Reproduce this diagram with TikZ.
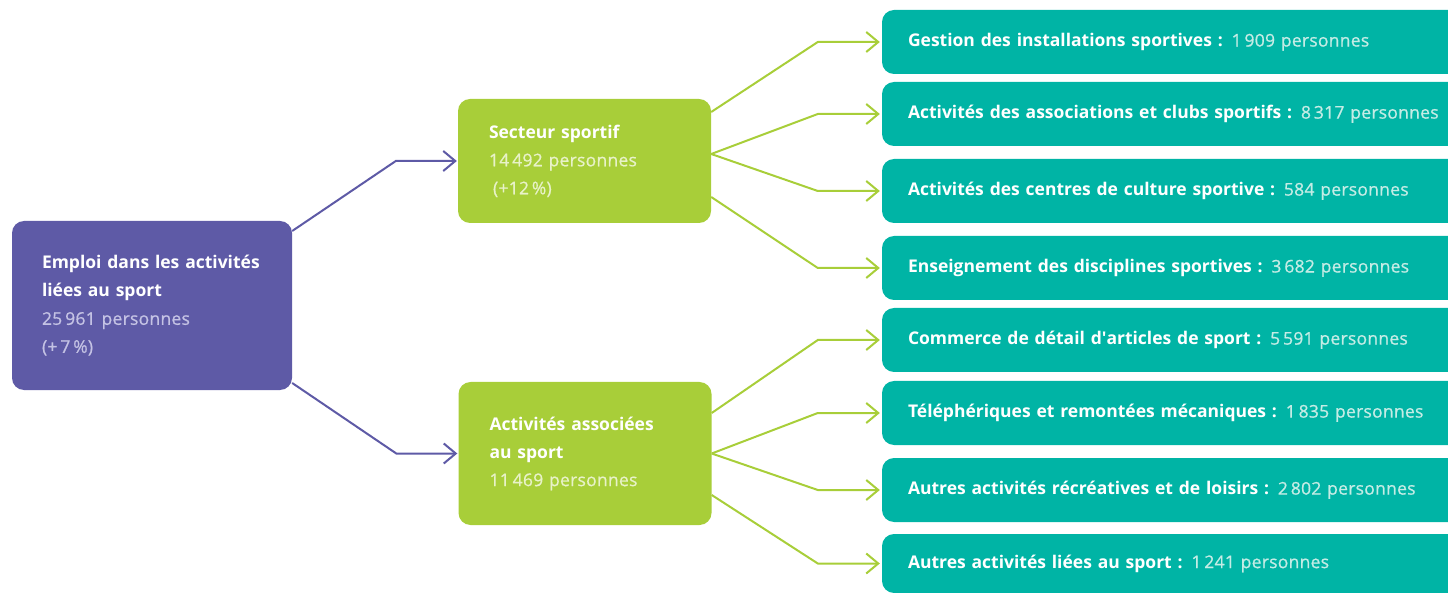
\documentclass[tikz,border=0pt]{standalone}
\usepackage{fontspec}
\setmainfont{Open Sans}[UprightFeatures={FakeBold=0.8, LetterSpace=1.5}]
\usetikzlibrary{arrows.meta}

\definecolor{empPurple}{RGB}{94,90,166}
\definecolor{empLavender}{RGB}{196,194,228}
\definecolor{sportGreen}{RGB}{168,206,57}
\definecolor{sportPale}{RGB}{232,242,200}
\definecolor{sportTeal}{RGB}{0,180,165}
\definecolor{tealPale}{RGB}{196,236,229}

\begin{document}
\begin{tikzpicture}[
    x=1pt, y=-1pt,
    font=\fontsize{17.5}{28}\selectfont,
    box/.style={rectangle, rounded corners=12pt, text=white, align=left, inner ysep=0pt},
    root/.style={box, fill=empPurple, minimum width=280pt, minimum height=169pt, text width=220pt, inner xsep=30pt},
    sector/.style={box, fill=sportGreen, minimum width=253pt, text width=191pt, inner xsep=31pt},
    branch/.style={box, fill=sportTeal, minimum width=600pt, minimum height=64pt, text width=548pt, inner xsep=26pt},
    purplelink/.style={-{Straight Barb[length=12pt,width=20pt]}, line width=2pt, empPurple, shorten >=1pt},
    greenlink/.style={-{Straight Barb[length=12pt,width=20pt]}, line width=2pt, sportGreen, shorten >=2pt}
]
\useasboundingbox (0,0) rectangle (1448,593);
\clip (0,0) rectangle (1448,593);

% Main box
\node[root] (emploi) at (152,305.5) {\textbf{Emploi dans les activités}\\\textbf{liées au sport}\\{\color{empLavender}25\,961 personnes\\(+\,7\,\%)}};

% Sectors
\node[sector, minimum height=124pt] (secteur) at (584.5,161) {\textbf{Secteur sportif}\\{\color{sportPale}14\,492 personnes\\\hspace*{4pt}(+12\,\%)}};
\node[sector, minimum height=143pt] (associe) at (585,453.5) {\textbf{Activités associées}\\\textbf{au sport}\\{\color{sportPale}11\,469 personnes}};

% Branches
\node[branch] (gestion) at (1182,42) {\textbf{Gestion des installations sportives : }{\color{tealPale}1\,909 personnes}};
\node[branch] (clubs) at (1182,114) {\textbf{Activités des associations et clubs sportifs : }{\color{tealPale}8\,317 personnes}};
\node[branch] (culture) at (1182,191) {\textbf{Activités des centres de culture sportive : }{\color{tealPale}584 personnes}};
\node[branch] (enseignement) at (1182,268) {\textbf{Enseignement des disciplines sportives : }{\color{tealPale}3\,682 personnes}};
\node[branch] (commerce) at (1182,340) {\textbf{Commerce de détail d\textquotesingle articles de sport : }{\color{tealPale}5\,591 personnes}};
\node[branch] (remontees) at (1182,413) {\textbf{Téléphériques et remontées mécaniques : }{\color{tealPale}1\,835 personnes}};
\node[branch] (loisirs) at (1182,490) {\textbf{Autres activités récréatives et de loisirs : }{\color{tealPale}2\,802 personnes}};
\node[branch, minimum height=59pt] (autres) at (1182,563.5) {\textbf{Autres activités liées au sport : }{\color{tealPale}1\,241 personnes}};

% Connections
\draw[purplelink] ([yshift=74.5pt]emploi.east) -- ([xshift=-62pt]secteur.west) -- (secteur.west);
\draw[purplelink] ([yshift=-77.5pt]emploi.east) -- ([xshift=-62pt]associe.west) -- (associe.west);

\draw[greenlink] ([yshift=49pt]secteur.east) -- ([xshift=-64pt]gestion.west) -- (gestion.west);
\draw[greenlink] ([yshift=7pt]secteur.east) -- ([xshift=-64pt]clubs.west) -- (clubs.west);
\draw[greenlink] ([yshift=7pt]secteur.east) -- ([xshift=-64pt]culture.west) -- (culture.west);
\draw[greenlink] ([yshift=-36pt]secteur.east) -- ([xshift=-64pt]enseignement.west) -- (enseignement.west);

\draw[greenlink] ([yshift=40.5pt]associe.east) -- ([xshift=-64pt]commerce.west) -- (commerce.west);
\draw[greenlink] (associe.east) -- ([xshift=-64pt]remontees.west) -- (remontees.west);
\draw[greenlink] (associe.east) -- ([xshift=-64pt]loisirs.west) -- (loisirs.west);
\draw[greenlink] ([yshift=-41.5pt]associe.east) -- ([xshift=-64pt]autres.west) -- (autres.west);

\end{tikzpicture}
\end{document}
